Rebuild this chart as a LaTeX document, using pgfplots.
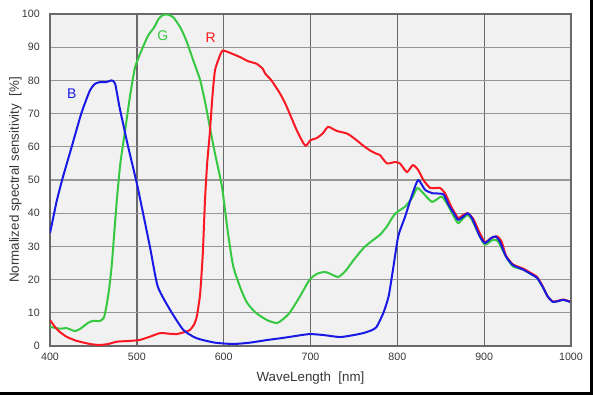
\documentclass[border=0pt]{standalone}
\usepackage{fontspec}
\setmainfont{Liberation Sans}
\usepackage{pgfplots}
\pgfplotsset{compat=1.18}
\definecolor{cB}{RGB}{25,25,230}
\definecolor{cG}{RGB}{55,200,65}
\definecolor{cR}{RGB}{250,25,35}
\definecolor{bg}{RGB}{241,241,241}
\definecolor{gridv}{RGB}{105,105,105}
\definecolor{gridh}{RGB}{150,150,150}
\definecolor{txt}{RGB}{55,55,55}
\begin{document}
\begin{tikzpicture}
\begin{axis}[
  at={(0,0)}, anchor=south west,
  scale only axis, width=390.75pt, height=249pt,
  xmin=400, xmax=1000, ymin=0, ymax=100,
  xtick={400,500,...,1000}, ytick={0,10,...,100},
  major tick length=0pt,
  grid=major,
  x grid style={gridv, line width=1pt},
  y grid style={gridh, line width=0.8pt},
  axis line style={gridv, line width=1pt},
  axis background/.style={fill=bg},
  /pgf/number format/assume math mode=true,
  /pgf/number format/set thousands separator={},
  tick label style={font=\fontsize{8}{9}\selectfont, text=txt},
  xticklabel style={anchor=center, yshift=-8.25pt},
  yticklabel style={anchor=east, inner sep=0pt, xshift=-7.5pt},
  xlabel={WaveLength\ \ [nm]},
  ylabel={Normalized spectral sensitivity\ \ [\%]},
  every axis x label/.style={at={(axis description cs:0.5,0)}, anchor=center, yshift=-24pt, font=\fontsize{10}{12}\selectfont, text=txt},
  every axis y label/.style={at={(axis description cs:0,0.5)}, anchor=center, xshift=-26pt, rotate=90, font=\fontsize{10}{12}\selectfont, text=txt},
  every axis plot/.append style={line width=1.5pt, no marks, line join=round, smooth, tension=0.35},
  clip=true,
]
% Green
\addplot[cG] coordinates {
(400,5.8)(405,5.5)(412,5.2)(419,5.4)(425,4.8)(429,4.5)(435,5.2)(444,7)(450,7.6)(457,7.5)(462,8.5)
(465,12)(468,17)(471,24)(474,34)(477,44)(481,55)(486,64)(492,75)(498,84)(507,90)(513,93.5)(520,96)
(525,98.5)(530,99.7)(536,99.8)(542,99)(550,96)(557,92)(565,86)(573,80)(579,73)(584,66)(590,58)
(598,48)(605,34)(611,24)(620,17)(627,13)(637,10)(650,7.8)(661,6.9)(668,8)(676,10)(688,15)(699,20)
(708,21.8)(717,22.3)(724,21.6)(732,20.8)(740,22.5)(750,26)(761,29.5)(770,31.5)(780,33.5)(788,36)
(795,39)(800,40.4)(809,42)(817,44.6)(823,47.6)(830,46)(840,43.4)(851,45)(858,42.5)(864,39.5)
(870,37)(876,38.5)(881,39.5)(886,38)(895,33)(901,30.5)(910,32)(916,31.5)(925,27)(933,24)(945,23)
(955,21.5)(961,20.5)(967,18)(973,15)(979,13.3)(985,13.5)(991,13.9)(999,13.3)
};
% Red
\addplot[cR] coordinates {
(400,7.8)(405,6)(410,4.5)(419,2.8)(430,1.6)(446,0.6)(457,0.3)(467,0.6)(477,1.3)(490,1.5)(503,1.8)
(515,2.8)(527,3.9)(537,3.7)(546,3.6)(555,4.2)(561,4.8)(566,6.5)(569,8.8)(571,12)(573,16)(576,28)
(578.5,44)(581,55)(584,64)(587,75)(590,83)(595,87)(599,89)(610,88)(619,87)(628,85.8)(638,85)
(645,83.5)(648,82)(655,80)(665,76)(671,73)(676,70)(685,64.5)(694,60.3)(700,62)(707,62.6)(714,64)
(720,66)(725,65.5)(730,64.8)(742,64)(748,63)(753,62)(760,60.5)(768,59)(775,58)(780,57.5)(788,55)
(797,55.4)(803,55)(811,52.4)(818,54.5)(824,53)(830,50)(838,47.6)(849,47.6)(855,46)(862,42)
(870,38.6)(876,39.5)(881,40)(887,38.5)(895,34)(901,31.3)(908,32.5)(915,33)(920,31.5)(925,27.3)
(933,24.6)(945,23.3)(955,21.8)(961,20.8)(967,18.2)(973,15)(979,13.4)(985,13.6)(991,14)(999,13.4)
};
% Blue
\addplot[cB] coordinates {
(400,34)(404,39)(408,44)(415,51)(425,60)(436,70)(446,77)(452,79)(458,79.5)(465,79.5)(471,80)
(475,79)(480,72)(485,66)(490,60)(500,49)(504,44)(515,30)(524,18)(538,11)(553,5)(565,2.8)(573,2)
(590,1)(611,0.6)(630,1)(650,1.8)(670,2.5)(690,3.3)(700,3.6)(715,3.3)(734,2.7)(750,3.3)(761,3.9)
(770,4.7)(776,5.7)(784,10)(790,15)(795,23)(801,33)(809,39)(817,45.5)(824,50)(832,47)(841,46)
(853,45.7)(859,42.5)(865,40)(870,38)(876,39)(881,40)(886,38.5)(895,33)(901,31)(908,32.5)(913,33)
(918,31.5)(925,27)(933,24.4)(945,23)(955,21.5)(961,20.5)(967,18)(973,15)(979,13.3)(985,13.5)
(991,13.9)(999,13.3)
};
\node[text=cB, font=\fontsize{10.5}{12}\selectfont] at (axis cs:425,76) {B};
\node[text=cG, font=\fontsize{10.5}{12}\selectfont] at (axis cs:530,93.4) {G};
\node[text=cR, font=\fontsize{10.5}{12}\selectfont] at (axis cs:585,93) {R};
\end{axis}
\pgfresetboundingbox
\useasboundingbox (-37.5pt,-36.75pt) rectangle (407.25pt,259.5pt);
\draw[black, line width=2.25pt] (-37.5pt,-35.6pt) -- (406.1pt,-35.6pt) -- (406.1pt,259.5pt);
\end{tikzpicture}
\end{document}
